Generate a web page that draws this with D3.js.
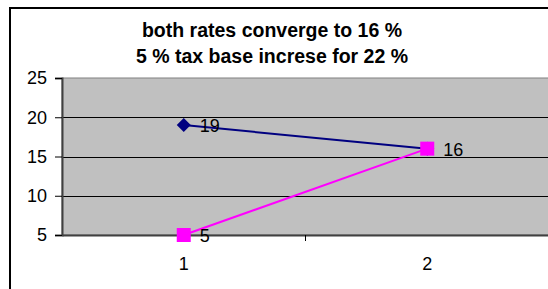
<!DOCTYPE html>
<html>
<head>
<meta charset="utf-8">
<script src="https://cdn.jsdelivr.net/npm/d3@7"></script>
<style>
  body { margin: 0; background: #fff; }
  text { font-family: Arial, "Liberation Sans", sans-serif; }
</style>
</head>
<body>
<div id="chart"></div>
<script>
// data
var categories = ["1", "2"];
var seriesA = [19, 16];   // navy, diamonds
var seriesB = [5, 16];    // magenta, squares
var yTicks = [5, 10, 15, 20, 25];
var titleLines = ["both rates converge to 16 %", "5 % tax base increse for 22 %"];

var W = 548, H = 289;
var margin = {top: 78, right: 0, bottom: 54, left: 62};
var width = W - margin.left - margin.right,
    height = H - margin.top - margin.bottom;

var svg = d3.select("#chart")
  .append("svg")
    .attr("width", W)
    .attr("height", H);

// outer chart border (right/bottom run off the picture)
svg.append("rect")
  .attr("x", 10).attr("y", 8)
  .attr("width", W + 10).attr("height", H + 10)
  .attr("fill", "#fff")
  .attr("stroke", "#000")
  .attr("stroke-width", 2);

// title
svg.append("g").selectAll("text")
  .data(titleLines)
  .enter().append("text")
    .attr("x", 272)
    .attr("y", function(d, i) { return 37 + i * 26; })
    .attr("text-anchor", "middle")
    .attr("font-weight", "bold")
    .attr("font-size", "19.5px")
    .text(function(d) { return d; });

var g = svg.append("g")
  .attr("transform", "translate(" + margin.left + "," + margin.top + ")");

var x = d3.scaleBand()
  .domain(categories)
  .range([0, width + 1]);

var y = d3.scaleLinear()
  .domain([5, 25])
  .range([height, 0]);

// plot area
g.append("rect")
  .attr("x", 0).attr("y", 0)
  .attr("width", width + 2).attr("height", height)
  .attr("fill", "#c0c0c0")
  .attr("stroke", "#808080")
  .attr("stroke-width", 1);

// gridlines
g.append("g").selectAll("line")
  .data(yTicks.slice(1, 4))
  .enter().append("line")
    .attr("x1", 0).attr("x2", width + 2)
    .attr("y1", function(d) { return Math.round(y(d)) + 0.5; })
    .attr("y2", function(d) { return Math.round(y(d)) + 0.5; })
    .attr("stroke", "#000")
    .attr("stroke-width", 1);

// y axis
var yAxis = g.append("g")
  .call(d3.axisLeft(y).tickValues(yTicks).tickSize(7).tickPadding(8));
yAxis.select(".domain").attr("stroke", "#404040").attr("stroke-width", 2);
yAxis.selectAll("text").attr("font-size", "18px").attr("fill", "#000");

// x axis: ticks on band edges
var xAxis = g.append("g")
  .attr("transform", "translate(0," + height + ")")
  .call(d3.axisBottom(x).tickSize(0).tickPadding(22));
xAxis.select(".domain").attr("stroke", "#404040").attr("stroke-width", 2);
xAxis.selectAll("text").attr("font-size", "18px").attr("fill", "#000");
xAxis.selectAll(".edge")
  .data(categories.slice(1))
  .enter().append("line")
    .attr("class", "edge")
    .attr("x1", function(d) { return x(d); })
    .attr("x2", function(d) { return x(d); })
    .attr("y1", 0).attr("y2", 6)
    .attr("stroke", "#000");

var cx = function(d, i) { return x(categories[i]) + x.bandwidth() / 2; };

var line = d3.line()
  .x(function(d, i) { return x(categories[i]) + x.bandwidth() / 2; })
  .y(function(d) { return y(d); });

// series A (navy)
g.append("path")
  .datum(seriesA)
  .attr("d", line)
  .attr("fill", "none")
  .attr("stroke", "#000080")
  .attr("stroke-width", 2);

g.append("g").selectAll("path")
  .data(seriesA)
  .enter().append("path")
    .attr("d", d3.symbol().type(d3.symbolDiamond2).size(125))
    .attr("transform", function(d, i) { return "translate(" + cx(d, i) + "," + y(d) + ")"; })
    .attr("fill", "#000080");

// series B (magenta)
g.append("path")
  .datum(seriesB)
  .attr("d", line)
  .attr("fill", "none")
  .attr("stroke", "#ff00ff")
  .attr("stroke-width", 2);

g.append("g").selectAll("rect")
  .data(seriesB)
  .enter().append("rect")
    .attr("x", function(d, i) { return cx(d, i) - 7; })
    .attr("y", function(d) { return y(d) - 7; })
    .attr("width", 14).attr("height", 14)
    .attr("fill", "#ff00ff");

// data labels (A's last label sits under B's)
var labels = seriesA.map(function(v, i) { return {v: v, i: i}; })
  .filter(function(d) { return d.i === 0; })
  .concat(seriesB.map(function(v, i) { return {v: v, i: i}; }));

g.append("g").selectAll("text")
  .data(labels)
  .enter().append("text")
    .attr("x", function(d) { return cx(d.v, d.i) + 16; })
    .attr("y", function(d) { return y(d.v) + 7; })
    .attr("font-size", "18px")
    .attr("fill", "#000")
    .text(function(d) { return d.v; });
</script>
</body>
</html>
